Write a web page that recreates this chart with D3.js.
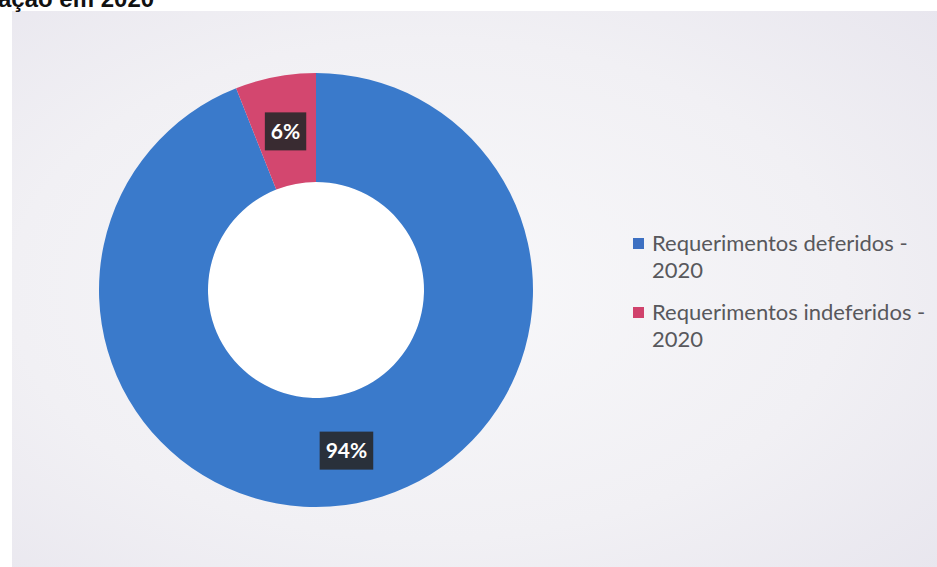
<!DOCTYPE html>
<html>
<head>
<meta charset="utf-8">
<script src="https://cdn.jsdelivr.net/npm/d3@7"></script>
<style>
  html, body { margin: 0; padding: 0; background: #ffffff; }
  svg { display: block; }
</style>
</head>
<body>
<svg id="chart" width="937" height="567"></svg>
<script>
// ---- data ----
const titleText = "ação em 2020";
const categories = ["Requerimentos deferidos - 2020", "Requerimentos indeferidos - 2020"];
const legendLines = [["Requerimentos deferidos -", "2020"], ["Requerimentos indeferidos -", "2020"]];
const values = [94, 6];
const labels = ["94%", "6%"];
const colors = ["#3a7acb", "#d3476f"];
const legendColors = ["#3d70c2", "#d0426c"];

const W = 937, H = 567;
const svg = d3.select("#chart");

// background panel with soft vignette
const defs = svg.append("defs");
const grad = defs.append("radialGradient").attr("id", "bg")
  .attr("cx", "0.45").attr("cy", "0.5").attr("r", "0.75");
grad.append("stop").attr("offset", "0%").attr("stop-color", "#f8f8fa");
grad.append("stop").attr("offset", "60%").attr("stop-color", "#f1f0f4");
grad.append("stop").attr("offset", "100%").attr("stop-color", "#e8e6ee");

svg.append("rect").attr("x", 0).attr("y", 0).attr("width", W).attr("height", H).attr("fill", "#ffffff");
svg.append("rect").attr("x", 12).attr("y", 11).attr("width", W - 12).attr("height", H - 11)
  .attr("fill", "url(#bg)");

// title fragment at top-left (cropped in the source photo)
svg.append("text")
  .attr("x", -2).attr("y", 7)
  .attr("font-family", "Liberation Sans, Arial, sans-serif")
  .attr("font-weight", "bold").attr("font-size", 24)
  .attr("fill", "#111")
  .text(titleText);

// donut
const cx = 316, cy = 290, rOuter = 217, rInner = 108;
const g = svg.append("g").attr("transform", `translate(${cx},${cy})`);

g.append("circle").attr("r", rInner).attr("fill", "#ffffff");

const pie = d3.pie().sort(null).value(d => d);
const arcs = pie(values);
const arc = d3.arc().innerRadius(rInner).outerRadius(rOuter);

g.selectAll("path.slice").data(arcs).enter().append("path")
  .attr("class", "slice")
  .attr("d", arc)
  .attr("fill", (d, i) => colors[i]);

// data labels
const labelG = g.selectAll("g.lbl").data(arcs).enter().append("g")
  .attr("class", "lbl")
  .attr("transform", d => { const c = arc.centroid(d); return `translate(${c[0]},${c[1] + 1})`; });

labelG.each(function(d, i) {
  const gg = d3.select(this);
  const t = gg.append("text")
    .attr("text-anchor", "middle").attr("dy", "0.36em")
    .attr("font-family", "Lato, 'Open Sans', sans-serif")
    .attr("font-weight", "bold").attr("font-size", 21)
    .attr("fill", "#ffffff")
    .text(labels[i]);
  const bb = t.node().getBBox();
  gg.insert("rect", "text")
    .attr("x", bb.x - 6).attr("y", -19)
    .attr("width", bb.width + 12).attr("height", 38)
    .attr("fill", "rgba(40,40,42,0.9)");
});

// legend
const legend = svg.append("g").attr("transform", "translate(633,0)");
const legendY = [251, 320];
legendLines.forEach((lines, i) => {
  legend.append("rect")
    .attr("x", 0).attr("y", legendY[i] - 13)
    .attr("width", 11).attr("height", 11)
    .attr("fill", legendColors[i]);
  const t = legend.append("text")
    .attr("x", 19).attr("y", legendY[i])
    .attr("font-family", "Lato, 'Open Sans', sans-serif")
    .attr("font-size", 22)
    .attr("fill", "#58585c");
  lines.forEach((ln, j) => {
    t.append("tspan").attr("x", 19).attr("y", legendY[i] + j * 27).text(ln);
  });
});
</script>
</body>
</html>
